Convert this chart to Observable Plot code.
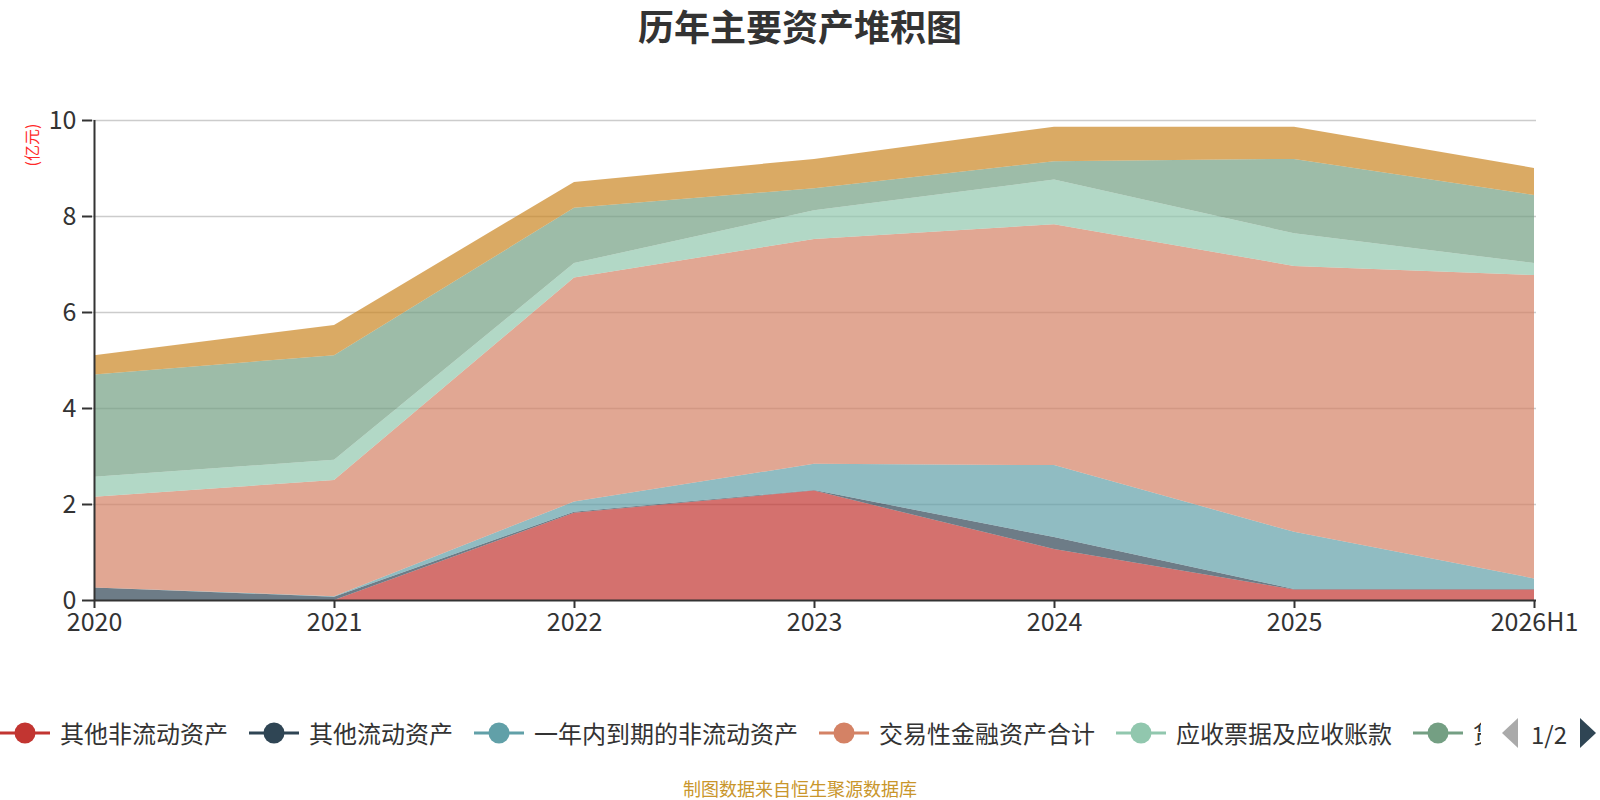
<!DOCTYPE html>
<html><head><meta charset="utf-8">
<script src="https://cdn.jsdelivr.net/npm/d3@7"></script>
<script src="https://cdn.jsdelivr.net/npm/@observablehq/plot@0.6"></script>
<style>
body{margin:0;background:#fff;font-family:"Noto Sans CJK SC","Noto Sans",sans-serif;}
#wrap{position:relative;width:1600px;height:800px;overflow:hidden;background:#fff;}
#title{position:absolute;left:0;top:0;width:1600px;height:50px;line-height:50px;text-align:center;font-size:36px;font-weight:bold;color:#333;}
#chart{position:absolute;left:0;top:0;}
#ylabel{position:absolute;left:31px;top:145px;transform:translate(-50%,-50%) rotate(-90deg);font-size:16px;color:#ff2a2a;white-space:nowrap;}
#legend{position:absolute;left:0;top:713px;width:1481px;height:40px;overflow:hidden;display:flex;flex-wrap:nowrap;white-space:nowrap;}
.item{display:flex;align-items:center;height:40px;margin-right:21px;flex:none;}
.item svg{flex:none;margin-right:10px;}
.item span{font-size:24px;color:#333;line-height:40px;}
#pager{position:absolute;left:1502px;top:713px;height:40px;display:flex;align-items:center;}
#pager span{font-size:24px;color:#333;margin:0 13px 0 13px;}
#caption{position:absolute;left:0;top:776px;width:1600px;text-align:center;font-size:18px;line-height:24px;color:#c9962b;}
</style></head><body>
<div id="wrap">
 <div id="chart"></div>
 <div id="title">历年主要资产堆积图</div>
 <div id="ylabel">(亿元)</div>
 <div id="legend"></div>
 <div id="pager">
  <svg width="16" height="30"><polygon points="16,0 16,30 0,15" fill="#aaa"/></svg>
  <span>1/2</span>
  <svg width="16" height="30"><polygon points="0,0 0,30 16,15" fill="#2f4554"/></svg>
 </div>
 <div id="caption">制图数据来自恒生聚源数据库</div>
</div>
<script>
const years = ["2020","2021","2022","2023","2024","2025","2026H1"];
const seriesNames = ["其他非流动资产","其他流动资产","一年内到期的非流动资产","交易性金融资产合计","应收票据及应收账款","货币资金","存货"];
const colors = ["#c23531","#2f4554","#61a0a8","#d48265","#91c7ae","#749f83","#ca8622"];
// values in 亿元
const otherNonCurrent   = [0.00, 0.00, 1.82, 2.28, 1.06, 0.22, 0.22];
const otherCurrent      = [0.26, 0.07, 0.02, 0.01, 0.25, 0.01, 0.01];
const nonCurrentDue1Y   = [0.00, 0.01, 0.21, 0.55, 1.50, 1.19, 0.22];
const tradingFinancial  = [1.89, 2.42, 4.67, 4.68, 5.02, 5.54, 6.32];
const receivables       = [0.42, 0.42, 0.30, 0.60, 0.93, 0.68, 0.25];
const cash              = [2.13, 2.18, 1.15, 0.46, 0.38, 1.55, 1.42];
const inventory         = [0.40, 0.63, 0.54, 0.61, 0.72, 0.67, 0.56];
const yTicks = [0, 2, 4, 6, 8, 10];

const seriesValues = [otherNonCurrent, otherCurrent, nonCurrentDue1Y, tradingFinancial, receivables, cash, inventory];
const data = [];
seriesNames.forEach((name, i) => years.forEach((yr, j) => data.push({year: yr, series: name, value: seriesValues[i][j]})));

const chart = Plot.plot({
  width: 1600, height: 660,
  marginTop: 120, marginBottom: 60, marginLeft: 92, marginRight: 64,
  style: {fontSize: "25px", fontFamily: '"Noto Sans CJK SC","Noto Sans",sans-serif', color: "#333", background: "transparent"},
  x: {type: "point", domain: years, padding: 0, label: null},
  y: {domain: [0, 10], label: null},
  color: {domain: seriesNames, range: colors},
  marks: [
    Plot.gridY({ticks: yTicks.slice(1), stroke: "#ccc", strokeOpacity: 1, strokeWidth: 1.5}),
    Plot.areaY(data, {x: "year", y: "value", fill: "series", fillOpacity: 0.7}),
    Plot.ruleY([0], {stroke: "#333", strokeWidth: 2}),
    Plot.ruleX([years[0]], {stroke: "#333", strokeWidth: 2}),
    Plot.axisY({ticks: yTicks, tickSize: 10, tickPadding: 6, stroke: "#333", strokeWidth: 2, fill: "#333", label: null}),
    Plot.axisX({tickSize: 8, tickPadding: 5, stroke: "#333", strokeWidth: 2, fill: "#333", label: null})
  ]
});
document.getElementById("chart").appendChild(chart);

const legend = document.getElementById("legend");
seriesNames.forEach((name, i) => {
  const item = document.createElement("div");
  item.className = "item";
  item.innerHTML = `<svg width="50" height="24"><line x1="0" y1="12" x2="50" y2="12" stroke="${colors[i]}" stroke-width="3"/><circle cx="25" cy="12" r="10.5" fill="${colors[i]}"/></svg><span>${name}</span>`;
  legend.appendChild(item);
});
</script>
</body></html>
